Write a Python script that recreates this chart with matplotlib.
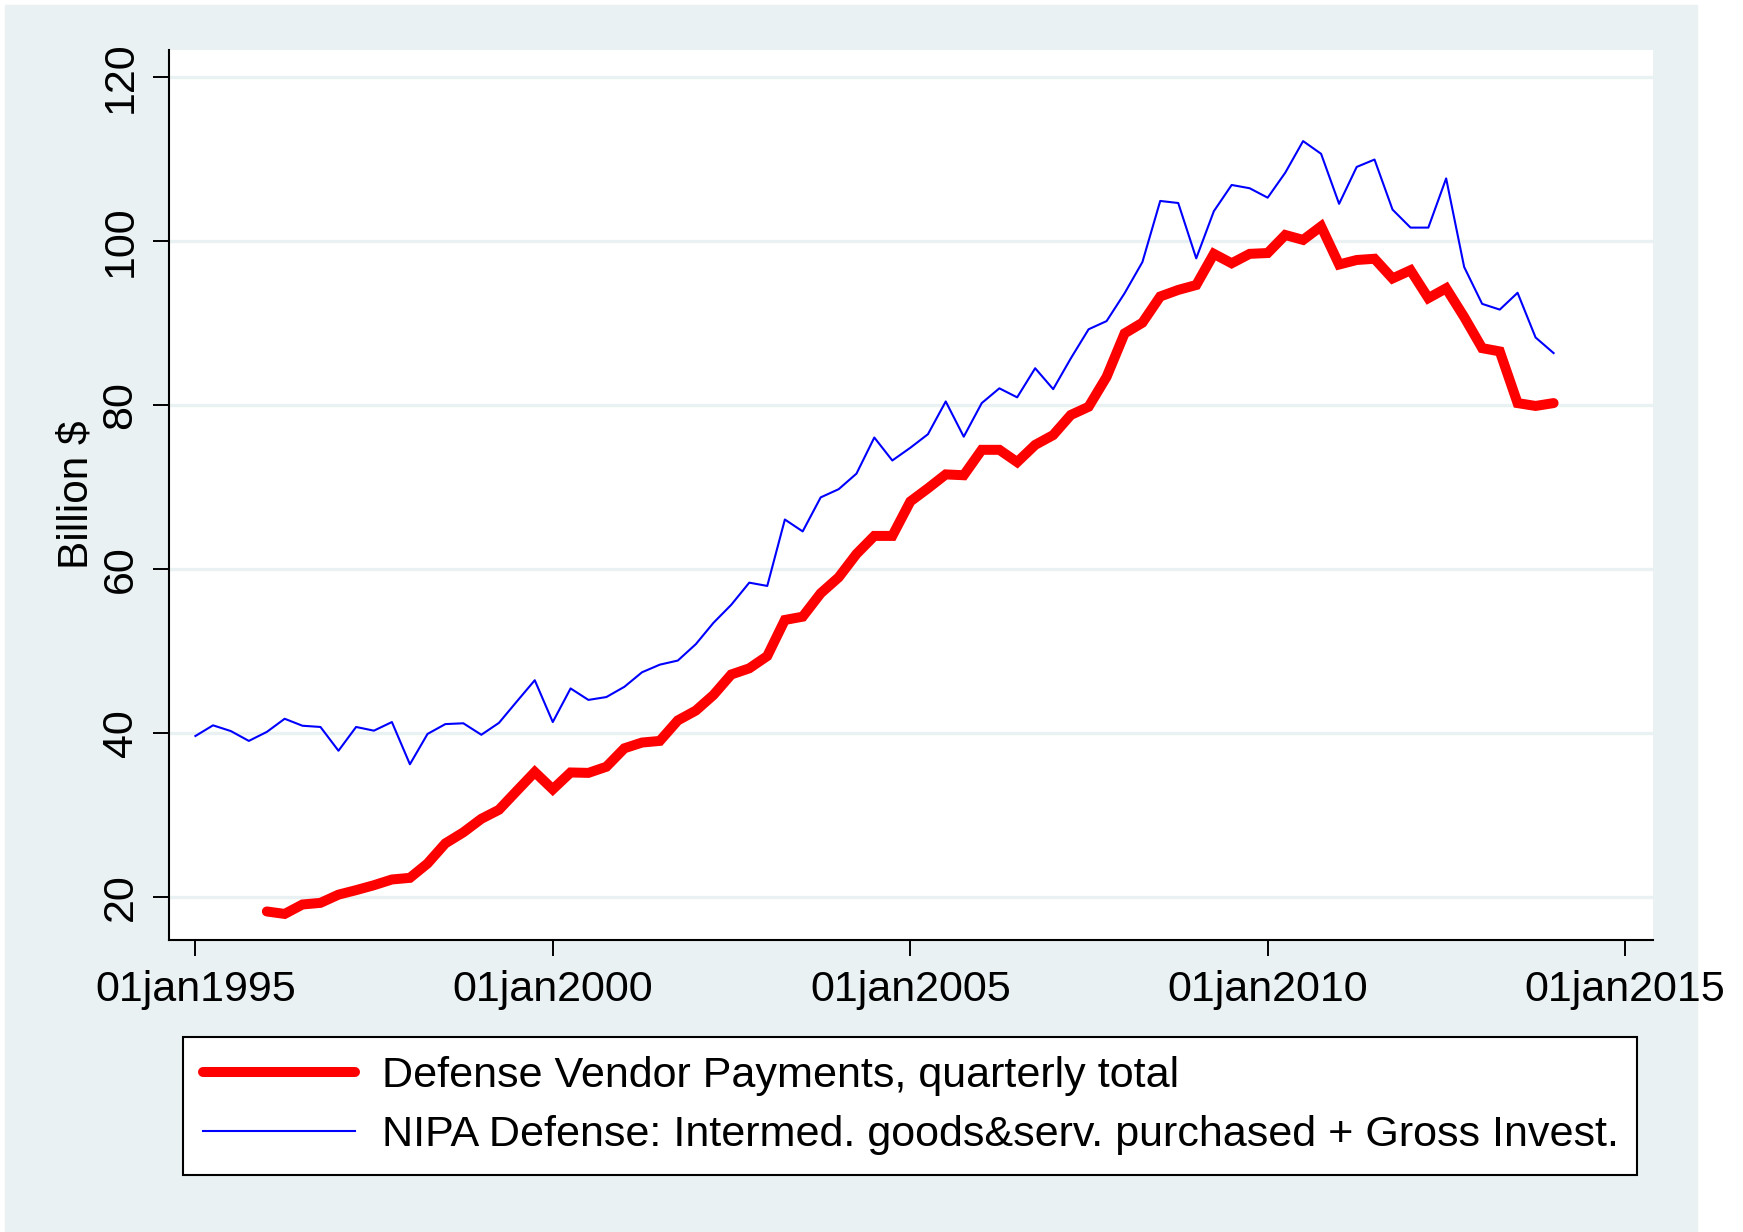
import pandas as pd
import matplotlib
matplotlib.use("Agg")
import matplotlib.pyplot as plt
import matplotlib.dates as mdates
from matplotlib.patches import Rectangle

# Quarterly data, billion $
start = "1995-01-01"
nipa_defense = [
    39.6, 40.9, 40.2, 39.0, 40.1, 41.7, 40.85, 40.7, 37.8, 40.7,
    40.25, 41.3, 36.15, 39.85, 41.05, 41.15, 39.75, 41.2, 43.8, 46.4,
    41.3, 45.4, 44.0, 44.35, 45.6, 47.37, 48.3, 48.8, 50.8, 53.4,
    55.6, 58.3, 57.9, 66.0, 64.55, 68.7, 69.7, 71.6, 76.0, 73.2,
    74.75, 76.4, 80.4, 76.1, 80.2, 82.0, 80.9, 84.45, 81.9, 85.65,
    89.2, 90.2, 93.6, 97.4, 104.85, 104.6, 97.85, 103.6, 106.8, 106.4,
    105.25, 108.3, 112.15, 110.6, 104.5, 109.0, 109.9, 103.8, 101.6, 101.6,
    107.6, 96.8, 92.3, 91.6, 93.65, 88.2, 86.3,
]
# vendor payments start in 1996q1
vendor_payments = [
    18.2, 17.9, 19.05, 19.25, 20.25, 20.8, 21.4, 22.1, 22.3, 24.05,
    26.5, 27.85, 29.5, 30.6, 32.9, 35.2, 33.1, 35.15, 35.1, 35.85,
    38.1, 38.8, 39.0, 41.5, 42.7, 44.6, 47.1, 47.85, 49.35, 53.75,
    54.15, 57.0, 58.95, 61.8, 64.0, 64.0, 68.2, 69.8, 71.5, 71.4,
    74.5, 74.5, 73.0, 75.1, 76.3, 78.75, 79.75, 83.4, 88.7, 90.0,
    93.2, 94.0, 94.6, 98.4, 97.25, 98.4, 98.5, 100.7, 100.1, 101.75,
    97.1, 97.65, 97.8, 95.4, 96.4, 93.0, 94.2, 90.7, 86.9, 86.5,
    80.2, 79.85, 80.2,
]
labels = [
    "Defense Vendor Payments, quarterly total",
    "NIPA Defense: Intermed. goods&serv. purchased + Gross Invest.",
]
tick_years = [1995, 2000, 2005, 2010, 2015]
y_ticks = [20, 40, 60, 80, 100, 120]

dates = pd.date_range(start, periods=len(nipa_defense), freq="QS-JAN")
vp_dates = dates[len(nipa_defense) - len(vendor_payments):]

bg = "#EAF1F3"
plt.rcParams["font.family"] = ["Liberation Sans", "DejaVu Sans"]

W, H = 1743, 1232
fig = plt.figure(figsize=(W / 100, H / 100), dpi=100, facecolor="white")
fig.patches.append(Rectangle((5 / W, 0), (1697 - 5) / W, (H - 5) / H,
                             transform=fig.transFigure, color=bg, zorder=-10))

ax = fig.add_axes([169 / W, 1 - 940 / H, (1653 - 169) / W, (940 - 50) / H])
ax.set_facecolor("white")

l1, = ax.plot(vp_dates, vendor_payments, color="#FF0000", lw=7.2,
              solid_capstyle="round", solid_joinstyle="miter", zorder=3)
l2, = ax.plot(dates, nipa_defense, color="#0000FF", lw=1.5, zorder=3)

ax.set_ylim(14.72, 123.26)
ax.set_yticks(y_ticks)
ax.yaxis.grid(True, color=bg, lw=2.4)
ax.set_axisbelow(True)

tick_dates = [pd.Timestamp(f"{y}-01-01") for y in tick_years]
ax.set_xlim(mdates.date2num(pd.Timestamp("1995-01-01")) - 135,
            mdates.date2num(pd.Timestamp("2015-01-01")) + 143)
ax.set_xticks(tick_dates)
ax.set_xticklabels([f"01jan{y}" for y in tick_years])

for s in ["top", "right"]:
    ax.spines[s].set_visible(False)
for s in ["left", "bottom"]:
    ax.spines[s].set_linewidth(1.5)

ax.tick_params(axis="both", length=11.5, width=1.4, labelsize=31)
ax.tick_params(axis="y", labelrotation=90, pad=9)
ax.tick_params(axis="x", pad=10)
for t in ax.get_yticklabels():
    t.set_va("center")

ax.set_ylabel("Billion $", fontsize=30.5)
ax.yaxis.set_label_coords(-(169 - 96) / (1653 - 169), 0.5)

leg = fig.legend([l1, l2], labels, loc="upper left",
                 bbox_to_anchor=(183.4 / W, 1 - 1037 / H, (1637.4 - 183.4) / W, 0),
                 mode="expand", fontsize=31.1, fancybox=False, framealpha=1,
                 facecolor="white", edgecolor="black", handlelength=3.52,
                 handletextpad=0.62, labelspacing=0.44, borderpad=0.45,
                 borderaxespad=0)
leg.get_frame().set_linewidth(1.5)

fig.savefig("out.png", dpi=100, facecolor="white")
